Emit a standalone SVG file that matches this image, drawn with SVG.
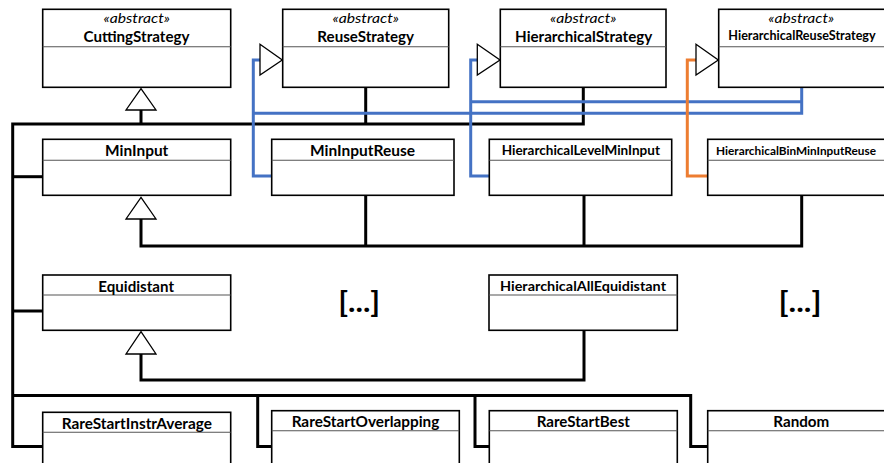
<svg xmlns="http://www.w3.org/2000/svg" width="884" height="463" viewBox="0 0 884 463">
<style>
.box{fill:#fff;stroke:#000;stroke-width:1.6}
.div{stroke:#555;stroke-width:1.1;fill:none}
.t{font-family:Lato,"Liberation Sans",sans-serif;font-weight:bold;font-size:14.5px;fill:#000;text-anchor:middle}
.ts{font-family:Lato,"Liberation Sans",sans-serif;font-weight:bold;font-size:13px;fill:#000;text-anchor:middle}
.tx{font-family:Lato,"Liberation Sans",sans-serif;font-weight:bold;font-size:12px;fill:#000;text-anchor:middle}
.st{font-family:Lato,"Liberation Sans",sans-serif;font-style:italic;font-size:13.5px;fill:#000;text-anchor:middle}
.big{font-family:Lato,"Liberation Sans",sans-serif;font-weight:bold;font-size:28px;fill:#000;text-anchor:middle}
.blk{fill:none;stroke:#000;stroke-width:3}
.blue{fill:none;stroke:#4472C4;stroke-width:3}
.orn{fill:none;stroke:#ED7D31;stroke-width:3}
.tri{fill:#fff;stroke:#000;stroke-width:1.3}
</style>
<rect width="884" height="463" fill="#fff"/>
<g id="connectors">
<path class="blk" d="M583.3,87.3 V124 H12.7 V446.5 H42.7"/>
<path class="blk" d="M141,110 V124"/>
<path class="blk" d="M365.7,87.3 V124"/>
<path class="blk" d="M12.7,176.7 H42.7"/>
<path class="blk" d="M12.7,311 H42.7"/>
<path class="blk" d="M141,219 V246 H801.7 V195.3"/>
<path class="blk" d="M365.7,195.3 V246"/>
<path class="blk" d="M584,195.3 V246"/>
<path class="blk" d="M141,354 V380 H584 V330.3"/>
<path class="blk" d="M12.7,395.5 H690.7 V446.5 H707.7"/>
<path class="blk" d="M257.7,395.5 V446.5 H271.7"/>
<path class="blk" d="M475,395.5 V446.5 H489.3"/>
<path class="blue" d="M271.7,176 H253.3 V60 H260"/>
<path class="blue" d="M801.7,87.3 V113.3 H253.3"/>
<path class="blue" d="M801.7,101.7 H470.7"/>
<path class="blue" d="M489.3,176 H470.7 V60 H477.3"/>
<path class="orn" d="M707.7,176 H687.3 V60 H696"/>
<polygon class="tri" points="141,88.7 156,110 126,110"/>
<polygon class="tri" points="141,197.3 156,219 126,219"/>
<polygon class="tri" points="141,331.7 156,354 126,354"/>
<polygon class="tri" points="260,44.3 282.3,60 260,75"/>
<polygon class="tri" points="477.3,44.3 500,60 477.3,75"/>
<polygon class="tri" points="696,44.3 718.3,60 696,75"/>
</g>
<g id="CuttingStrategy">
<rect class="box" x="42.7" y="9.3" width="188" height="78"/>
<line class="div" x1="42.7" y1="46.7" x2="230.7" y2="46.7"/>
<text class="st" x="136.7" y="22.5" textLength="66.5" lengthAdjust="spacingAndGlyphs">«abstract»</text>
<text class="t" x="136.5" y="42" textLength="106" lengthAdjust="spacingAndGlyphs">CuttingStrategy</text>
</g>
<g id="ReuseStrategy">
<rect class="box" x="282.7" y="9.3" width="166" height="78"/>
<line class="div" x1="282.7" y1="46.7" x2="448.7" y2="46.7"/>
<text class="st" x="365.7" y="22.5" textLength="66.5" lengthAdjust="spacingAndGlyphs">«abstract»</text>
<text class="t" x="365.7" y="42" textLength="96.7" lengthAdjust="spacingAndGlyphs">ReuseStrategy</text>
</g>
<g id="HierarchicalStrategy">
<rect class="box" x="500.3" y="9.3" width="165.7" height="78"/>
<line class="div" x1="500.3" y1="46.7" x2="666" y2="46.7"/>
<text class="st" x="583.2" y="22.5" textLength="66.5" lengthAdjust="spacingAndGlyphs">«abstract»</text>
<text class="t" x="583.7" y="42" textLength="137.3" lengthAdjust="spacingAndGlyphs">HierarchicalStrategy</text>
</g>
<g id="HierarchicalReuseStrategy">
<rect class="box" x="718.7" y="9.3" width="166.3" height="78"/>
<line class="div" x1="718.7" y1="46.7" x2="885" y2="46.7"/>
<text class="st" x="801.2" y="22.5" textLength="65.7" lengthAdjust="spacingAndGlyphs">«abstract»</text>
<text class="ts" x="802" y="40" textLength="147.3" lengthAdjust="spacingAndGlyphs">HierarchicalReuseStrategy</text>
</g>
<g id="MinInput">
<rect class="box" x="42.7" y="139.3" width="188" height="56"/>
<line class="div" x1="42.7" y1="160.3" x2="230.7" y2="160.3"/>
<text class="t" x="136.7" y="155.7" textLength="63.3" lengthAdjust="spacingAndGlyphs">MinInput</text>
</g>
<g id="MinInputReuse">
<rect class="box" x="271.7" y="139.3" width="182.3" height="56"/>
<line class="div" x1="271.7" y1="160.3" x2="454" y2="160.3"/>
<text class="t" x="362.5" y="155.7" textLength="105" lengthAdjust="spacingAndGlyphs">MinInputReuse</text>
</g>
<g id="HierarchicalLevelMinInput">
<rect class="box" x="489.3" y="139.3" width="182.4" height="56"/>
<line class="div" x1="489.3" y1="160.3" x2="671.7" y2="160.3"/>
<text class="ts" x="580.8" y="155.3" textLength="158.3" lengthAdjust="spacingAndGlyphs">HierarchicalLevelMinInput</text>
</g>
<g id="HierarchicalBinMinInputReuse">
<rect class="box" x="707.7" y="139.3" width="177.3" height="56"/>
<line class="div" x1="707.7" y1="160.3" x2="885" y2="160.3"/>
<text class="tx" x="796" y="155.3" textLength="160" lengthAdjust="spacingAndGlyphs">HierarchicalBinMinInputReuse</text>
</g>
<g id="Equidistant">
<rect class="box" x="42.7" y="275" width="188" height="55.3"/>
<line class="div" x1="42.7" y1="295" x2="230.7" y2="295"/>
<text class="t" x="136.2" y="291.5" textLength="75.7" lengthAdjust="spacingAndGlyphs">Equidistant</text>
</g>
<g id="HierarchicalAllEquidistant">
<rect class="box" x="489" y="275" width="188.3" height="55.3"/>
<line class="div" x1="489" y1="295" x2="677.3" y2="295"/>
<text class="ts" x="583" y="291.3" textLength="166" lengthAdjust="spacingAndGlyphs">HierarchicalAllEquidistant</text>
</g>
<g id="ellipsis1">
<text class="big" x="359.2" y="311.5" textLength="42" lengthAdjust="spacingAndGlyphs">[...]</text>
</g>
<g id="ellipsis2">
<text class="big" x="800" y="311.5" textLength="43" lengthAdjust="spacingAndGlyphs">[...]</text>
</g>
<g id="RareStartInstrAverage">
<rect class="box" x="42.7" y="412.3" width="188" height="70"/>
<line class="div" x1="42.7" y1="432.3" x2="230.7" y2="432.3"/>
<text class="t" x="136.8" y="429" textLength="150.3" lengthAdjust="spacingAndGlyphs">RareStartInstrAverage</text>
</g>
<g id="RareStartOverlapping">
<rect class="box" x="271.7" y="410.7" width="187.6" height="70"/>
<line class="div" x1="271.7" y1="430.7" x2="459.3" y2="430.7"/>
<text class="t" x="365.5" y="426.5" textLength="147.7" lengthAdjust="spacingAndGlyphs">RareStartOverlapping</text>
</g>
<g id="RareStartBest">
<rect class="box" x="489.3" y="410.7" width="188" height="70"/>
<line class="div" x1="489.3" y1="430.7" x2="677.3" y2="430.7"/>
<text class="t" x="583.3" y="426.5" textLength="93.3" lengthAdjust="spacingAndGlyphs">RareStartBest</text>
</g>
<g id="Random">
<rect class="box" x="707.7" y="410.7" width="188" height="70"/>
<line class="div" x1="707.7" y1="430.7" x2="895.7" y2="430.7"/>
<text class="t" x="801.3" y="426.5" textLength="56" lengthAdjust="spacingAndGlyphs">Random</text>
</g>
</svg>
